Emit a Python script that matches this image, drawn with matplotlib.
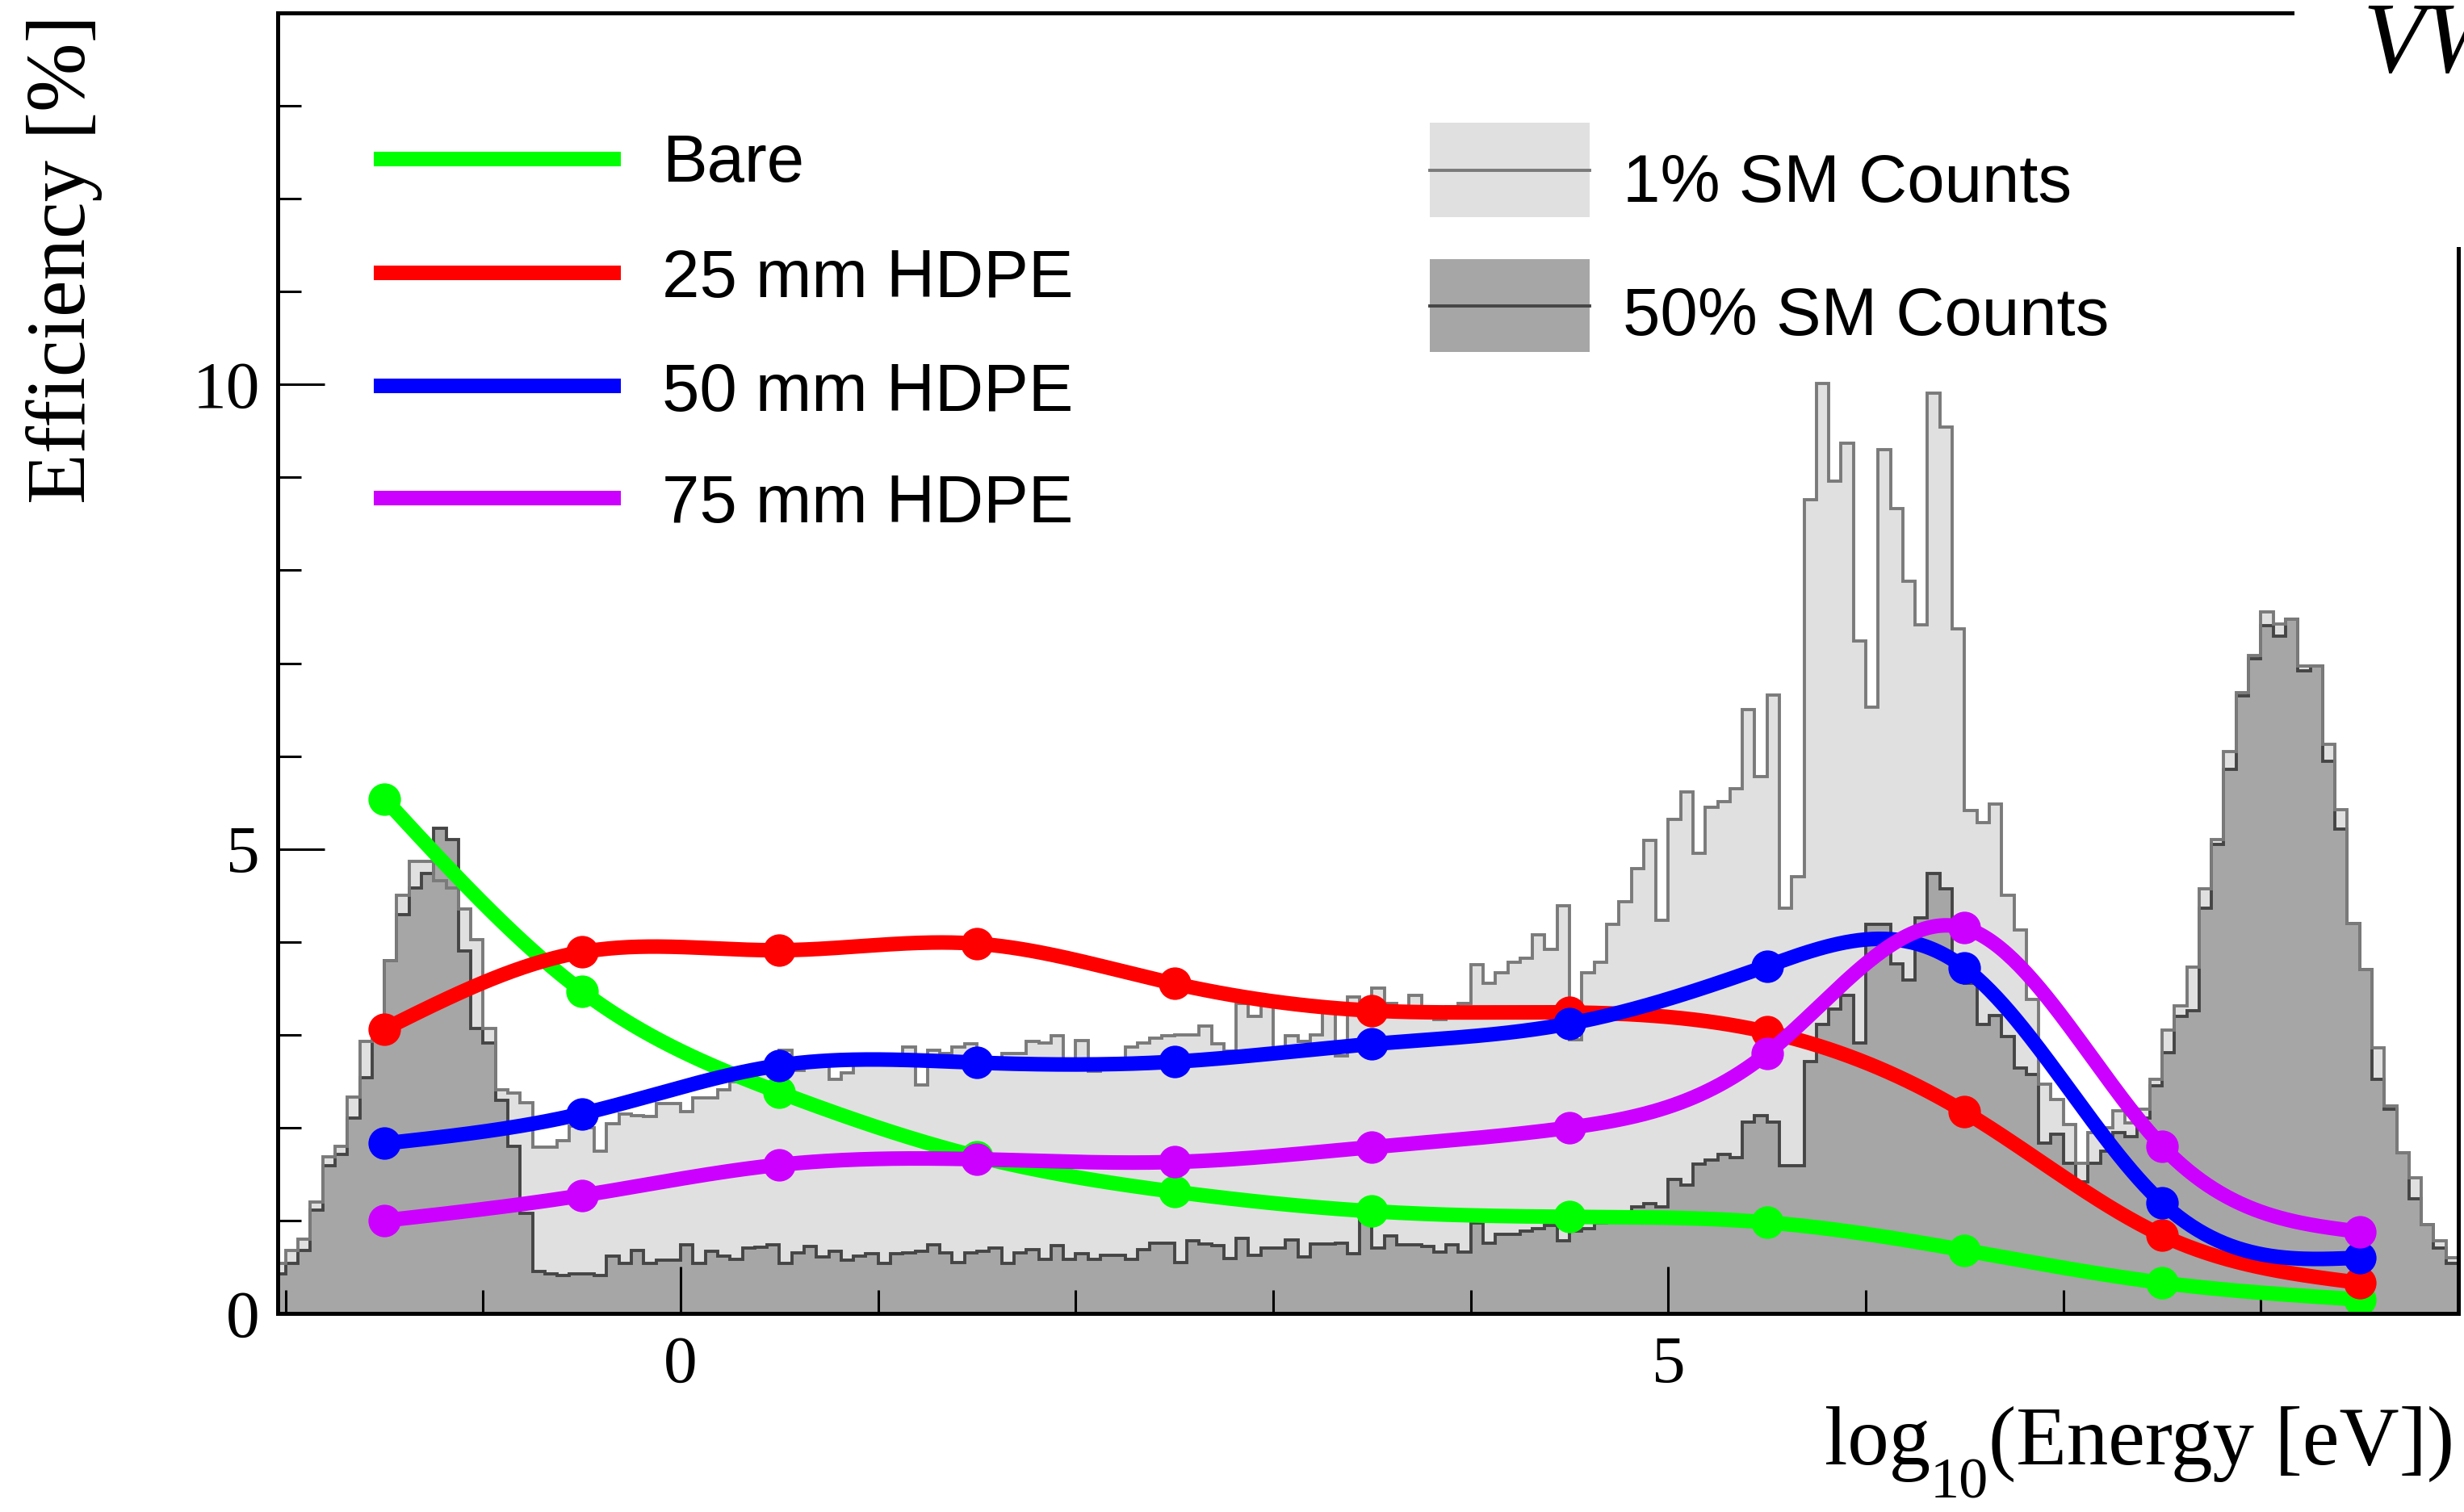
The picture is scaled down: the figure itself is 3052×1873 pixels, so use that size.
import numpy as np
import matplotlib
matplotlib.use("Agg")
import matplotlib.pyplot as plt
from matplotlib.lines import Line2D
from matplotlib.patches import Rectangle

plt.rcParams['font.family'] = 'Liberation Serif'

# SM spectrum histograms, bins of 1/16 in log10(E/eV) starting at -2.0625
bin_lo = -2.0625
bin_w = 0.0625
sm_1pct = [
    0.54, 0.68, 0.80, 1.20, 1.69, 1.80, 2.33, 2.93, 3.05, 3.80,
    4.50, 4.87, 4.87, 4.66, 4.58, 4.35, 4.02, 3.07, 2.41, 2.37,
    2.27, 1.79, 1.79, 1.86, 2.02, 2.00, 1.75, 2.04, 2.15, 2.13,
    2.12, 2.26, 2.26, 2.17, 2.32, 2.32, 2.41, 2.49, 2.52, 2.60,
    2.66, 2.83, 2.62, 2.67, 2.70, 2.52, 2.59, 2.72, 2.74, 2.70,
    2.72, 2.87, 2.46, 2.83, 2.80, 2.87, 2.90, 2.75, 2.73, 2.80,
    2.80, 2.93, 2.91, 2.99, 2.74, 2.94, 2.61, 2.74, 2.74, 2.87,
    2.91, 2.96, 2.99, 3.00, 3.00, 3.09, 2.90, 2.82, 3.34, 3.20,
    3.32, 2.77, 2.99, 2.93, 3.00, 3.25, 2.77, 3.41, 3.32, 3.50,
    3.34, 3.27, 3.42, 3.22, 3.16, 3.30, 3.34, 3.75, 3.55, 3.67,
    3.78, 3.82, 4.08, 3.92, 4.39, 2.95, 3.67, 3.78, 4.19, 4.43,
    4.79, 5.09, 4.23, 5.32, 5.61, 4.95, 5.45, 5.51, 5.65, 6.50,
    5.78, 6.66, 4.36, 4.70, 8.76, 10.01, 8.96, 9.37, 7.24, 6.53,
    9.30, 8.66, 7.88, 7.41, 9.91, 9.54, 7.37, 5.41, 5.28, 5.48,
    4.50, 4.13, 3.38, 2.47, 2.30, 2.03, 1.62, 1.95, 2.00, 2.18,
    2.05, 2.20, 2.52, 3.05, 3.31, 3.73, 4.57, 5.10, 6.05, 6.68,
    7.08, 7.55, 7.42, 7.47, 6.97, 6.97, 6.13, 5.42, 4.20, 3.70,
    2.86, 2.23, 1.73, 1.46, 0.96, 0.78, 0.60,
]
sm_50pct = [
    0.43, 0.54, 0.68, 1.11, 1.59, 1.71, 2.10, 2.54, 3.05, 3.80,
    4.29, 4.58, 4.74, 5.22, 5.10, 3.90, 3.07, 2.91, 2.29, 1.80,
    1.08, 0.45, 0.43, 0.41, 0.43, 0.43, 0.41, 0.62, 0.54, 0.68,
    0.54, 0.57, 0.57, 0.74, 0.54, 0.67, 0.62, 0.58, 0.70, 0.71,
    0.74, 0.54, 0.65, 0.72, 0.61, 0.67, 0.57, 0.62, 0.64, 0.54,
    0.64, 0.65, 0.67, 0.74, 0.65, 0.55, 0.65, 0.67, 0.70, 0.54,
    0.65, 0.69, 0.58, 0.73, 0.58, 0.64, 0.58, 0.63, 0.63, 0.58,
    0.69, 0.76, 0.76, 0.55, 0.78, 0.75, 0.73, 0.59, 0.81, 0.63,
    0.70, 0.70, 0.79, 0.61, 0.75, 0.75, 0.76, 0.64, 1.07, 0.70,
    0.83, 0.74, 0.74, 0.72, 0.66, 0.74, 0.66, 0.97, 0.76, 0.85,
    0.85, 0.89, 0.91, 0.95, 0.78, 0.89, 0.91, 0.97, 0.99, 0.99,
    1.15, 1.18, 1.15, 1.44, 1.38, 1.61, 1.65, 1.71, 1.68, 2.06,
    2.13, 2.06, 1.59, 1.59, 2.71, 3.11, 3.28, 3.42, 2.91, 4.19,
    4.19, 3.76, 3.59, 4.26, 4.74, 4.57, 3.65, 3.55, 3.11, 3.21,
    2.98, 2.64, 2.57, 1.83, 1.93, 1.62, 1.42, 1.62, 1.75, 1.95,
    1.90, 2.10, 2.45, 2.81, 3.20, 3.26, 4.36, 5.05, 5.86, 6.65,
    7.05, 7.40, 7.29, 7.47, 6.92, 6.97, 5.94, 5.21, 4.20, 3.70,
    2.52, 2.20, 1.73, 1.23, 0.96, 0.70, 0.54,
]

# efficiency points
energy_pts = [-1.5, -0.5, 0.5, 1.5, 2.5, 3.5, 4.5, 5.5, 6.5, 7.5, 8.5]
eff_bare = [5.54, 3.47, 2.38, 1.69, 1.31, 1.10, 1.04, 0.98, 0.68, 0.33, 0.15]
eff_25mm = [3.06, 3.89, 3.91, 3.98, 3.55, 3.26, 3.24, 3.03, 2.17, 0.84, 0.33]
eff_50mm = [1.83, 2.15, 2.67, 2.70, 2.71, 2.90, 3.12, 3.74, 3.72, 1.19, 0.60]
eff_75mm = [1.00, 1.27, 1.60, 1.66, 1.63, 1.79, 2.00, 2.80, 4.15, 1.80, 0.88]

curve_labels = ['Bare', '25 mm HDPE', '50 mm HDPE', '75 mm HDPE']
curve_colors = ['#00ff00', '#ff0000', '#0000ff', '#cc00ff']


def smooth(x, y, num=600):
    # natural cubic spline through the points
    x = np.asarray(x, float)
    y = np.asarray(y, float)
    n = len(x)
    h = np.diff(x)
    A = np.zeros((n, n))
    b = np.zeros(n)
    A[0, 0] = A[-1, -1] = 1
    for i in range(1, n - 1):
        A[i, i - 1] = h[i - 1]
        A[i, i] = 2 * (h[i - 1] + h[i])
        A[i, i + 1] = h[i]
        b[i] = 6 * ((y[i + 1] - y[i]) / h[i] - (y[i] - y[i - 1]) / h[i - 1])
    M = np.linalg.solve(A, b)
    xs = np.linspace(x[0], x[-1], num)
    k = np.clip(np.searchsorted(x, xs) - 1, 0, n - 2)
    hh = x[k + 1] - x[k]
    t0 = x[k + 1] - xs
    t1 = xs - x[k]
    ys = (M[k] * t0**3 + M[k + 1] * t1**3) / (6 * hh) \
        + (y[k] / hh - M[k] * hh / 6) * t0 + (y[k + 1] / hh - M[k + 1] * hh / 6) * t1
    return xs, ys


W, H = 3052, 1873
fig = plt.figure(figsize=(W / 200, H / 200), dpi=200)
fx = lambda px: px / W
fy = lambda py: 1 - py / H

ax = fig.add_axes([fx(344), fy(1627), fx(3045) - fx(344), fy(16) - fy(1627)])

edges = bin_lo + bin_w * np.arange(len(sm_1pct) + 1)
ax.stairs(sm_1pct, edges, fill=True, color='#e0e0e0', zorder=1)
ax.stairs(sm_50pct, edges, fill=True, color='#a6a6a6', zorder=1.1)
ax.stairs(sm_50pct, edges, color='#454545', lw=1.4, zorder=1.2)
ax.stairs(sm_1pct, edges, color='#7a7a7a', lw=1.4, zorder=1.3)

for i, (vals, col) in enumerate(zip([eff_bare, eff_25mm, eff_50mm, eff_75mm], curve_colors)):
    xs, ys = smooth(energy_pts, vals)
    ax.plot(xs, ys, color=col, lw=6.5, zorder=3 + i, solid_capstyle='round')
    ax.plot(energy_pts, vals, 'o', color=col, ms=13.5, zorder=3 + i)

ax.set_xlim(-2.04, 9.0)
ax.set_ylim(0, 14)

ax.set_xticks([0, 5])
ax.set_xticks([-2, -1, 1, 2, 3, 4, 6, 7, 8], minor=True)
ax.set_yticks([0, 5, 10])
ax.set_yticks([1, 2, 3, 4, 6, 7, 8, 9, 11, 12, 13], minor=True)
ax.tick_params(which='both', direction='in', width=1.1, color='black', labelsize=30)
ax.tick_params(which='major', length=21)
ax.tick_params(which='minor', length=10.5)
ax.tick_params(axis='x', pad=10)
ax.tick_params(axis='y', pad=8)

for side in ['top', 'right']:
    ax.spines[side].set_visible(False)
for side in ['left', 'bottom']:
    ax.spines[side].set_linewidth(1.8)
    ax.spines[side].set_zorder(10)
ax.add_line(Line2D([0, (2839 - 344) / (3045 - 344)], [1, 1], transform=ax.transAxes,
                   color='black', lw=1.8, clip_on=False))
ax.add_line(Line2D([1, 1], [0, (1627 - 308) / (1627 - 16)], transform=ax.transAxes,
                   color='black', lw=1.8, clip_on=False))

# axis titles
fig.text(fx(105), fy(18), 'Efficiency [%]', rotation=90, rotation_mode='anchor',
         ha='right', va='baseline', fontsize=37)

# x title built from pieces so the subscript sits low like the original
renderer = fig.canvas.get_renderer()
t_main = fig.text(fx(3040), fy(1814), '(Energy [eV])', ha='right', va='baseline', fontsize=37)
left = t_main.get_window_extent(renderer).x0
t_sub = fig.text(left / W, fy(1856), '10', ha='right', va='baseline', fontsize=26)
left = t_sub.get_window_extent(renderer).x0
fig.text(left / W, fy(1814), 'log', ha='right', va='baseline', fontsize=37)

fig.text(fx(2926), fy(89), 'VW', ha='left', va='baseline', fontsize=45, style='italic')

# legend for efficiency curves
line_y = [197, 338, 478, 617]
text_y = [225, 368, 509, 647]
for lab, col, ly, ty in zip(curve_labels, curve_colors, line_y, text_y):
    fig.add_artist(Line2D([fx(472), fx(760)], [fy(ly), fy(ly)], color=col, lw=6.5,
                          transform=fig.transFigure))
    fig.text(fx(820), fy(ty), lab, fontsize=30, family='Liberation Sans',
             ha='left', va='baseline')

# legend for SM count histograms
for lab, fc, ec, top, bot, ty in [('1% SM Counts', '#e0e0e0', '#7a7a7a', 152, 269, 250),
                                  ('50% SM Counts', '#a6a6a6', '#454545', 321, 436, 415)]:
    fig.add_artist(Rectangle((fx(1771), fy(bot)), fx(1969) - fx(1771), fy(top) - fy(bot),
                             facecolor=fc, edgecolor='none', transform=fig.transFigure))
    mid = (top + bot) / 2
    fig.add_artist(Line2D([fx(1771), fx(1969)], [fy(mid), fy(mid)], color=ec, lw=1.4,
                          transform=fig.transFigure))
    fig.text(fx(2010), fy(ty), lab, fontsize=30, family='Liberation Sans',
             ha='left', va='baseline')

fig.savefig('out.png', dpi=200, facecolor='white')
